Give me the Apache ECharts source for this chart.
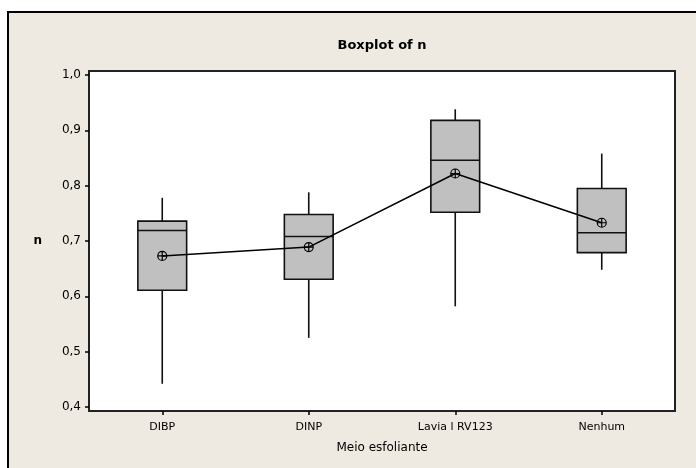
<!DOCTYPE html>
<html><head><meta charset="utf-8">
<script src="https://cdn.jsdelivr.net/npm/echarts@6/dist/echarts.min.js"></script>
<style>html,body{margin:0;padding:0;background:#fff}#c{width:696px;height:468px}</style>
</head><body><div id="c"></div>
<script>
const categories = ['DIBP', 'DINP', 'Lavia l RV123', 'Nenhum'];
const whiskerLow = [0.442, 0.525, 0.582, 0.648];
const q1 = [0.611, 0.631, 0.752, 0.679];
const median = [0.719, 0.708, 0.846, 0.715];
const q3 = [0.736, 0.748, 0.918, 0.795];
const whiskerHigh = [0.778, 0.788, 0.938, 0.858];
const means = [0.673, 0.689, 0.822, 0.733];
const yTicks = [0.4, 0.5, 0.6, 0.7, 0.8, 0.9, 1.0];

const boxData = categories.map((c, i) => [i, whiskerLow[i], q1[i], median[i], q3[i], whiskerHigh[i]]);
const FONT = 'DejaVu Sans';
const chart = echarts.init(document.getElementById('c'), null, {renderer: 'canvas'});
chart.setOption({
  backgroundColor: '#ffffff',
  animation: false,
  title: {
    text: 'Boxplot of n', left: 377, top: 34, textAlign: 'center',
    textStyle: {fontFamily: FONT, fontSize: 13, fontWeight: 'bold', color: '#000'}
  },
  graphic: [{
    type: 'rect', z: -10, silent: true,
    shape: {x: 8, y: 12, width: 720, height: 480},
    style: {fill: '#EEEAE1', stroke: '#000', lineWidth: 2}
  }],
  grid: {
    left: 89, top: 71, right: 21, bottom: 57, show: true,
    backgroundColor: '#fff', borderColor: '#222', borderWidth: 2
  },
  xAxis: {
    type: 'category', data: categories, boundaryGap: true,
    name: 'Meio esfoliante', nameLocation: 'middle', nameGap: 31,
    nameTextStyle: {fontFamily: FONT, fontSize: 12, color: '#000'},
    axisLine: {show: false},
    axisTick: {show: true, alignWithLabel: true, length: 4, lineStyle: {color: '#000', width: 1.5}},
    axisLabel: {fontFamily: FONT, fontSize: 11, color: '#000', margin: 11},
    splitLine: {show: false}
  },
  yAxis: {
    type: 'value', min: 0.3928, max: 1.0072,
    name: 'n', nameLocation: 'middle', nameRotate: 0, nameGap: 47,
    nameTextStyle: {fontFamily: FONT, fontSize: 12, fontWeight: 'bold', color: '#000'},
    axisLine: {show: false},
    axisTick: {show: true, length: 4, customValues: yTicks, lineStyle: {color: '#000', width: 1.5}},
    axisLabel: {fontFamily: FONT, fontSize: 12, color: '#000', margin: 8, customValues: yTicks,
      formatter: v => v.toFixed(1).replace('.', ',')},
    splitLine: {show: false}
  },
  series: [{
    type: 'custom', name: 'n', data: boxData, z: 3,
    encode: {x: 0, y: [1, 2, 3, 4, 5]},
    renderItem: function (params, api) {
      const idx = api.value(0);
      const x = api.coord([idx, 0])[0];
      const yLow = api.coord([idx, api.value(1)])[1];
      const yQ1 = api.coord([idx, api.value(2)])[1];
      const yMed = api.coord([idx, api.value(3)])[1];
      const yQ3 = api.coord([idx, api.value(4)])[1];
      const yHigh = api.coord([idx, api.value(5)])[1];
      const bw = api.size([1, 0])[0] * 0.333;
      const st = {stroke: '#111', lineWidth: 1.6};
      return {type: 'group', children: [
        {type: 'line', shape: {x1: x, y1: yHigh, x2: x, y2: yQ3}, style: st},
        {type: 'line', shape: {x1: x, y1: yQ1, x2: x, y2: yLow}, style: st},
        {type: 'rect', shape: {x: x - bw / 2, y: yQ3, width: bw, height: yQ1 - yQ3}, style: {fill: '#C0C0C0', stroke: '#111', lineWidth: 1.6}},
        {type: 'line', shape: {x1: x - bw / 2, y1: yMed, x2: x + bw / 2, y2: yMed}, style: st}
      ]};
    }
  }, {
    type: 'line', name: 'Mean', data: means, z: 5,
    symbol: 'path://M10,5A5,5,0,1,1,0,5A5,5,0,1,1,10,5ZM5,0L5,10M0,5L10,5',
    symbolSize: 9,
    itemStyle: {color: 'rgba(0,0,0,0)', borderColor: '#000', borderWidth: 1.2},
    lineStyle: {color: '#000', width: 1.5}
  }]
});
</script>
</body></html>
